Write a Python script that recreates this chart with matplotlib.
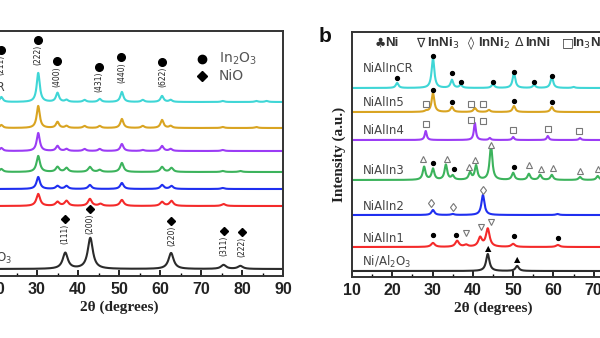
import numpy as np
import matplotlib.pyplot as plt

# ---------------- panel a (cropped on the left) ----------------
a_colors = ["#3fd6d6", "#d9a421", "#9b3cf5", "#3cb35c", "#1f2ff0", "#f42a2a", "#2b2b2b"]
a_offsets = [174, 148, 125, 104, 87, 70, 7]
a_hwhm = [0.45, 0.45, 0.45, 0.5, 0.5, 0.55, 0.75]
a_peaks = [
    [(21.3, 5), (30.3, 29), (35.0, 9), (37.2, 2), (41.6, 2), (45.3, 3), (50.7, 10),
     (55.8, 2), (60.5, 6), (62.6, 2), (75.3, 1), (83.5, 1), (86.0, 1)],
    [(21.3, 3), (30.3, 22), (35.0, 6), (37.2, 2), (41.6, 2), (45.3, 2), (50.7, 9),
     (55.8, 2), (60.5, 8), (62.6, 2), (75.3, 1), (83.5, 1)],
    [(21.3, 3), (30.3, 18), (35.0, 5), (37.2, 2), (41.6, 2), (45.3, 2), (50.7, 7),
     (55.8, 1), (60.5, 5), (62.6, 2), (75.3, 1)],
    [(21.3, 3), (30.3, 16), (35.0, 5), (37.2, 4), (42.9, 5), (45.3, 2), (50.7, 9),
     (60.5, 5), (62.8, 4), (75.3, 1), (79.6, 1)],
    [(30.3, 12), (35.0, 3), (37.2, 3), (42.9, 4), (50.7, 6), (60.5, 4), (62.8, 3), (75.3, 1)],
    [(30.3, 12), (35.0, 4), (37.2, 5), (42.9, 7), (45.5, 2), (50.7, 6), (60.5, 4),
     (62.8, 5), (75.5, 2)],
    [(36.9, 16), (43.0, 31), (62.7, 16), (75.5, 4), (79.6, 3)],
]
# In2O3 reflections (2theta, label y)
in2o3_pos = [21.2, 30.2, 34.9, 45.2, 50.6, 60.6]
in2o3_y = [226, 236, 215, 209, 219, 214]
in2o3_hkl = ["(211)", "(222)", "(400)", "(431)", "(440)", "(622)"]
# NiO reflections
nio_pos = [36.8, 42.9, 62.8, 75.6, 79.9]
nio_y = [57, 67, 55, 45, 44]
nio_hkl = ["(111)", "(200)", "(220)", "(311)", "(222)"]

# ---------------- panel b (cropped on the right) ----------------
b_names = ["NiAlInCR", "NiAlIn5", "NiAlIn4", "NiAlIn3", "NiAlIn2", "NiAlIn1", "Ni/Al$_2$O$_3$"]
b_colors = a_colors
b_offsets = [189, 165, 137, 97, 62, 30, 6]
b_label_y = [209, 174, 147, 107, 71, 38, 15]
b_peaks = [
    [(21.2, 5), (30.1, 30), (34.8, 8), (37.0, 3), (45.0, 4), (50.2, 15), (55.2, 3), (59.6, 11), (65.0, 1)],
    [(28.4, 1), (30.1, 19), (34.8, 5), (40.5, 4), (44.0, 2), (50.2, 6), (59.6, 5)],
    [(28.3, 9), (40.5, 17), (44.2, 2), (50.0, 3), (58.6, 4), (66.6, 2)],
    [(27.9, 13), (30.1, 11), (33.3, 15), (35.0, 4), (39.3, 7), (40.8, 14), (44.5, 35),
     (50.0, 7), (53.9, 6), (56.7, 5), (59.6, 5), (66.6, 3), (71.0, 4)],
    [(30.1, 5), (35.0, 1), (42.5, 20), (61.0, 1)],
    [(30.1, 4), (36.1, 6), (38.3, 2), (41.8, 9), (43.7, 18), (50.0, 3), (61.1, 2)],
    [(43.7, 17), (51.0, 5)],
]
b_hwhm = [0.4, 0.4, 0.3, 0.4, 0.45, 0.55, 0.5]

# phase marks in panel b: (2theta, y)
dot_x = [21.2, 30.1, 34.8, 37.0, 45.0, 50.2, 55.2, 59.6,
         30.1, 34.8, 50.2, 59.6,
         30.1, 35.2, 50.2,
         30.2, 35.8, 50.2, 61.2]
dot_y = [199, 221, 204, 195, 195, 205, 195, 201,
         187, 175, 176, 175,
         114, 108, 110,
         42, 42, 41, 39]
sq_x = [28.4, 39.5, 42.5, 28.3, 39.5, 42.5, 50.0, 58.6, 66.3]
sq_y = [173, 173, 173, 153, 157, 156, 147, 148, 146]
tri_x = [27.7, 33.6, 39.0, 40.6, 44.4, 54.0, 56.9, 59.9, 66.6, 71.0]
tri_y = [118, 118, 110, 117, 132, 112, 108, 109, 106, 108]
dia_x = [29.6, 35.0, 42.5]
dia_y = [74, 70, 87]
itri_x = [38.3, 42.0, 44.5]
itri_y = [44, 50, 55]
club_x = [43.7, 51.0]
club_y = [28, 17]

legend_x = [15.6, 26.0, 38.8, 50.4, 62.1]
legend_sym = ["\u2663", "\u2207", "\u25ca", "\u0394", "\u25a1"]
legend_txt = ["Ni", "InNi$_3$", "InNi$_2$", "InNi", "In$_3$Ni$_2$"]


def pattern(x, peaks, w):
    y = np.zeros_like(x)
    for c, h in peaks:
        y += h / (1 + ((x - c) / w) ** 2)
    return y


x = np.linspace(10, 90, 3000)
fig = plt.figure(figsize=(6, 3.38), dpi=100)

tick_font = dict(family="Liberation Sans", weight="bold", size=11.5)
label_font = dict(family="Liberation Serif", weight="bold", size=11)


def style_axes(ax, xmax):
    ax.set_ylim(0, 245)
    ax.set_yticks([])
    ax.set_xticks(np.arange(10, xmax + 1, 10))
    ax.set_xticks(np.arange(15, xmax, 10), minor=True)
    ax.set_xlim(10, xmax)
    ax.tick_params(axis="x", which="major", direction="in", length=4, width=1.2, pad=4)
    ax.tick_params(axis="x", which="minor", direction="in", length=2.5, width=1)
    for lab in ax.get_xticklabels():
        lab.set_fontproperties(tick_font)
        lab.set_color("#222222")
    for s in ax.spines.values():
        s.set_linewidth(1.4)
        s.set_color("#333333")
    ax.set_xlabel("2\u03b8 (degrees)", fontdict=label_font, color="#222222", labelpad=3)


# ---- panel a ----
axa = fig.add_axes([-45 / 600, 62 / 338, 328 / 600, 245 / 338])
for pk, off, col, w in zip(a_peaks, a_offsets, a_colors, a_hwhm):
    axa.plot(x, off + pattern(x, pk, w), color=col, lw=1.5)
style_axes(axa, 90)

for px, py, t in zip(in2o3_pos, in2o3_y, in2o3_hkl):
    axa.plot(px, py, "o", color="black", ms=5.5)
    axa.text(px, py - 5, t, rotation=90, ha="center", va="top", fontsize=5.5, color="#222222")
for px, py, t in zip(nio_pos, nio_y, nio_hkl):
    axa.plot(px, py, "D", color="black", ms=4.5)
    axa.text(px, py - 5, t, rotation=90, ha="center", va="top", fontsize=5.5, color="#222222")

axa.text(22.3, 188, "NiAlInCR", ha="right", va="center", fontsize=8.5, color="#444444")
axa.text(23.9, 18, "Ni/Al$_2$O$_3$", ha="right", va="center", fontsize=8.5, color="#444444")
axa.plot(70.2, 217, "o", color="black", ms=6)
axa.plot(70.2, 200, "D", color="black", ms=5)
axa.text(74.4, 217, "In$_2$O$_3$", va="center", fontsize=10, color="#555555")
axa.text(74.4, 200, "NiO", va="center", fontsize=10, color="#555555")

# ---- panel b ----
axb = fig.add_axes([352 / 600, 61 / 338, 282 / 600, 245 / 338])
for pk, off, col, w in zip(b_peaks, b_offsets, b_colors, b_hwhm):
    axb.plot(x, off + pattern(x, pk, w), color=col, lw=1.5)
style_axes(axb, 80)
axb.set_ylabel("Intensity (a.u.)", fontdict=label_font, color="#222222", labelpad=4)

for name, ly in zip(b_names, b_label_y):
    axb.text(12.6, ly, name, va="center", fontsize=8.5, color="#444444")

grey = "#777777"
axb.plot(dot_x, dot_y, "o", ls="none", color="black", ms=2.8)
axb.plot(sq_x, sq_y, "s", ls="none", mfc="white", mec=grey, mew=0.8, ms=4)
axb.plot(tri_x, tri_y, "^", ls="none", mfc="white", mec=grey, mew=0.8, ms=4.5)
axb.plot(dia_x, dia_y, "d", ls="none", mfc="white", mec=grey, mew=0.8, ms=4.5)
axb.plot(itri_x, itri_y, "v", ls="none", mfc="white", mec=grey, mew=0.8, ms=4.5)
for cx, cy in zip(club_x, club_y):
    axb.text(cx, cy, "\u25b2", ha="center", va="center", fontsize=6, color="black")

for lx, s, t in zip(legend_x, legend_sym, legend_txt):
    axb.text(lx, 234, s, va="center", fontsize=9, color="#333333", family="DejaVu Sans")
    axb.annotate(t, (lx, 234), xytext=(7.5, 0), textcoords="offset points", va="center",
                 fontsize=9.5, weight="bold", color="#333333", family="Liberation Sans")

fig.text(325 / 600, 1 - 37 / 338, "b", ha="center", va="center", fontsize=15,
         weight="bold", family="Liberation Sans", color="#111111")

fig.savefig("out.png", dpi=100)
